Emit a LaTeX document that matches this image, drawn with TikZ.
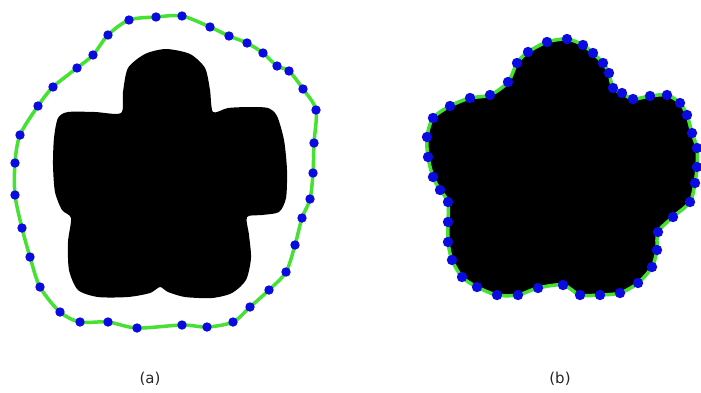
\documentclass[tikz,border=0pt]{standalone}
\usepackage{fontspec}
\setmainfont{DejaVu Sans}
\definecolor{cgreen}{RGB}{70,225,50}
\definecolor{cblue}{RGB}{10,10,225}
\tikzset{
  contour/.style={draw=cgreen, line width=3.5pt, smooth cycle, tension=0.5},
  dot/.style={fill=cblue},
  blob/.style={fill=black},
  caption/.style={font=\fontsize{15}{18}\selectfont, text=black!85, inner sep=0pt}
}
\begin{document}
\begin{tikzpicture}[x=1pt,y=-1pt]
\useasboundingbox (0,0) rectangle (701,392);
\fill[white] (0,0) rectangle (701,392);
% ---- (a) flower
\fill[blob] plot[smooth cycle, tension=0.45] coordinates {
 (166,49) (190,54) (205,68) (210,90) (213,112) (228,108) (250,107) (268,108)
 (277,116) (284,140) (287,170) (286,198) (279,212) (262,215) (247,217)
 (249,235) (251,258) (246,280) (232,293) (212,298) (185,297) (168,292) (160,287)
 (150,293) (128,297) (98,297) (78,290) (69,270) (68,242) (71,218) (62,210)
 (55,192) (53,165) (54,138) (58,118) (68,112) (95,112) (121,113) (123,92)
 (128,68) (145,54)};
\draw[contour] plot coordinates {
 (129,20) (156,17) (182,16) (210,27) (229,36) (247,43) (263,53) (277,66) (289,71)
 (303,89) (316,110) (314,143) (313,173) (310,199) (302,218) (295,245) (286,272)
 (269,290) (250,307) (233,322) (207,327) (182,325) (137,328) (108,322) (80,322)
 (60,312) (40,287) (30,257) (22,228) (15,195) (15,163) (20,135) (38,106) (53,87)
 (77,68) (93,55) (108,35)};
\foreach \p in {(129,20),(156,17),(182,16),(210,27),(229,36),(247,43),(263,53),(277,66),(289,71),
 (303,89),(316,110),(314,143),(313,173),(310,199),(302,218),(295,245),(286,272),
 (269,290),(250,307),(233,322),(207,327),(182,325),(137,328),(108,322),(80,322),
 (60,312),(40,287),(30,257),(22,228),(15,195),(15,163),(20,135),(38,106),(53,87),
 (77,68),(93,55),(108,35)}
  \fill[dot] \p circle (4.7);
% ---- (b) flower
\fill[blob] plot[smooth cycle, tension=0.5] coordinates {
 (547,42) (567,39) (583,45) (593,53) (603,63) (609,73) (613,88) (622,93) (633,99)
 (650,96) (667,95) (680,103) (687,115) (692,133) (697,148) (697,167) (695,183)
 (690,202) (673,217) (658,232) (657,250) (652,267) (638,283) (620,293) (600,295)
 (580,295) (563,285) (538,288) (518,295) (497,295) (477,287) (462,277) (452,260)
 (448,242) (448,222) (448,202) (440,190) (433,177) (428,157) (427,137) (433,118)
 (450,106) (470,98) (490,95) (508,82) (517,63) (528,52)};
\draw[contour] plot coordinates {
 (547,42) (567,39) (583,45) (593,53) (603,63) (609,73) (613,88) (622,93) (633,99)
 (650,96) (667,95) (680,103) (687,115) (692,133) (697,148) (697,167) (695,183)
 (690,202) (673,217) (658,232) (657,250) (652,267) (638,283) (620,293) (600,295)
 (580,295) (563,285) (538,288) (518,295) (497,295) (477,287) (462,277) (452,260)
 (448,242) (448,222) (448,202) (440,190) (433,177) (428,157) (427,137) (433,118)
 (450,106) (470,98) (490,95) (508,82) (517,63) (528,52)};
\foreach \p in {(547,42),(567,39),(583,45),(593,53),(603,63),(609,73),(613,88),(622,93),(633,99),
 (650,96),(667,95),(680,103),(687,115),(692,133),(697,148),(697,167),(695,183),
 (690,202),(673,217),(658,232),(657,250),(652,267),(638,283),(620,293),(600,295),
 (580,295),(563,285),(538,288),(518,295),(497,295),(477,287),(462,277),(452,260),
 (448,242),(448,222),(448,202),(440,190),(433,177),(428,157),(427,137),(433,118),
 (450,106),(470,98),(490,95),(508,82),(517,63),(528,52)}
  \fill[dot] \p circle (5.2);
% ---- captions
\node[caption] (capa) at (150,379) {(a)};
\node[caption] (capb) at (560,379) {(b)};
\end{tikzpicture}
\end{document}
